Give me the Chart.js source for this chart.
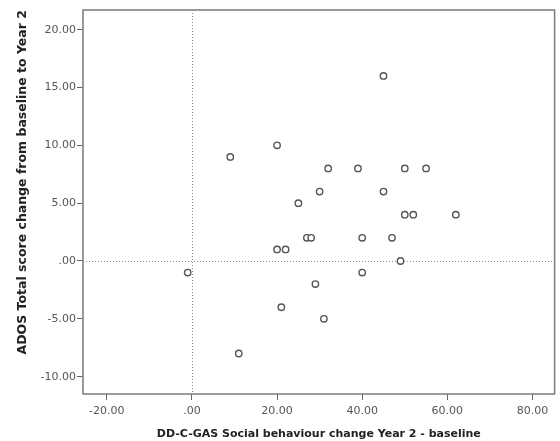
<!DOCTYPE html>
<html>
<head>
<meta charset="utf-8">
<script src="https://cdn.jsdelivr.net/npm/chart.js@4/dist/chart.umd.min.js"></script>
<style>
  html, body { margin: 0; padding: 0; background: #fff; }
  #wrap { width: 560px; height: 441px; }
</style>
</head>
<body>
<div id="wrap"><canvas id="scatter"></canvas></div>
<script>
// DD-C-GAS social behaviour change (x) vs ADOS total score change (y)
const socialChange = [-1, 9, 11, 20, 20, 21, 22, 25, 27, 28, 29, 30, 31, 32, 39, 40, 40, 45, 45, 47, 49, 50, 50, 52, 55, 62];
const adosChange   = [-1, 9, -8, 10, 1, -4, 1, 5, 2, 2, -2, 6, -5, 8, 8, 2, -1, 16, 6, 2, 0, 8, 4, 4, 8, 4];
const xTicks = [-20, 0, 20, 40, 60, 80];
const yTicks = [-10, -5, 0, 5, 10, 15, 20];

const fmt = v => v === 0 ? '.00' : v.toFixed(2);

// dotted reference lines at 0 and the box round the plot
const frame = {
  id: 'frame',
  beforeDatasetsDraw(chart) {
    const { ctx, chartArea: a, scales: { x, y } } = chart;
    ctx.save();
    ctx.strokeStyle = '#8a8a8a';
    ctx.lineWidth = 1;
    ctx.setLineDash([1, 2]);
    const x0 = Math.round(x.getPixelForValue(0)) + 0.5;
    const y0 = Math.round(y.getPixelForValue(0)) + 0.5;
    ctx.beginPath();
    ctx.moveTo(x0, a.top); ctx.lineTo(x0, a.bottom);
    ctx.moveTo(a.left, y0); ctx.lineTo(a.right, y0);
    ctx.stroke();
    ctx.setLineDash([]);
    ctx.strokeStyle = '#7a7a7a';
    ctx.lineWidth = 1.5;
    ctx.strokeRect(a.left, a.top, a.right - a.left, a.bottom - a.top);
    ctx.restore();
  }
};

new Chart(document.getElementById('scatter'), {
  type: 'scatter',
  data: {
    datasets: [{
      data: socialChange.map((v, i) => ({ x: v, y: adosChange[i] })),
      pointStyle: 'circle',
      pointRadius: 3.2,
      pointBorderWidth: 1.4,
      borderColor: '#555',
      backgroundColor: '#fff'
    }]
  },
  options: {
    responsive: true,
    maintainAspectRatio: false,
    animation: false,
    layout: { padding: { left: 0, top: 10, right: 5, bottom: 0 } },
    plugins: { legend: { display: false }, tooltip: { enabled: false } },
    scales: {
      x: {
        min: -25.6, max: 85.2,
        afterBuildTicks: s => { s.ticks = xTicks.map(v => ({ value: v })); },
        afterFit: s => { s.height = 47; },
        grid: { drawOnChartArea: false, drawTicks: true, tickLength: 6, color: '#666' },
        border: { display: false },
        ticks: { callback: fmt, color: '#555', font: { family: 'DejaVu Sans', size: 11 }, padding: 5, maxRotation: 0 },
        title: {
          display: true,
          text: 'DD-C-GAS Social behaviour change Year 2 - baseline',
          color: '#222',
          font: { family: 'DejaVu Sans', size: 11, weight: 'bold' },
          padding: { top: 2, bottom: 0 }
        }
      },
      y: {
        min: -11.5, max: 21.7,
        afterBuildTicks: s => { s.ticks = yTicks.map(v => ({ value: v })); },
        afterFit: s => { s.width = 83; },
        grid: { drawOnChartArea: false, drawTicks: true, tickLength: 6, color: '#666' },
        border: { display: false },
        ticks: { callback: fmt, color: '#555', font: { family: 'DejaVu Sans', size: 11 }, padding: 1 },
        title: {
          display: true,
          align: 'end',
          text: 'ADOS Total score change from baseline to Year 2',
          color: '#222',
          font: { family: 'DejaVu Sans', size: 12.5, weight: 'bold' },
          padding: { top: 15, bottom: 0 }
        }
      }
    }
  },
  plugins: [frame]
});
</script>
</body>
</html>
